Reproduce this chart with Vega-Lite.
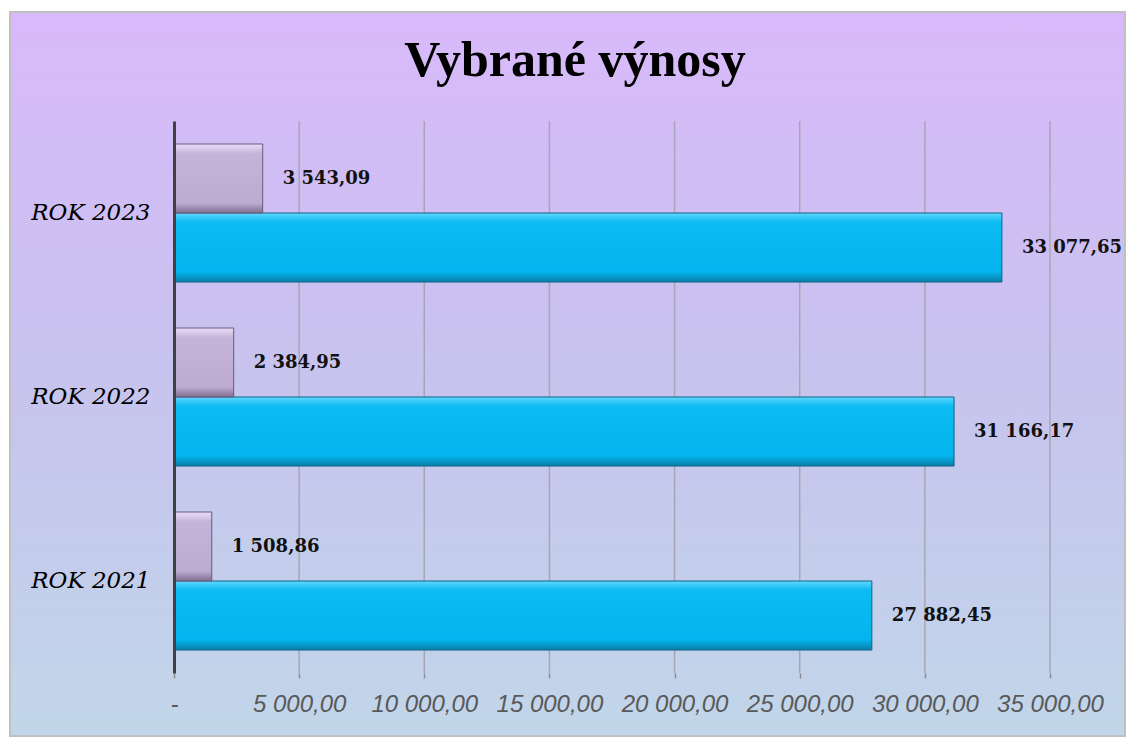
{
  "$schema": "https://vega.github.io/schema/vega-lite/v6.json",
  "width": 876,
  "height": 552,
  "autosize": {"type": "none"},
  "padding": {"left": 174, "top": 121, "right": 77, "bottom": 65},
  "background": "white",
  "config": {
    "view": {"stroke": null},
    "locale": {"number": {"decimal": ",", "thousands": "\u00a0", "grouping": [3], "currency": ["", ""]}}
  },
  "title": {
    "text": "Vybrané výnosy",
    "font": "Liberation Serif",
    "fontSize": 50,
    "fontWeight": "bold",
    "color": "#000000",
    "anchor": "middle",
    "frame": "group",
    "baseline": "alphabetic",
    "dx": -37,
    "offset": -115
  },
  "data": {
    "values": [
      {"rok": "ROK 2023", "serie": "Řada 2", "hodnota": 3543.09},
      {"rok": "ROK 2023", "serie": "Řada 1", "hodnota": 33077.65},
      {"rok": "ROK 2022", "serie": "Řada 2", "hodnota": 2384.95},
      {"rok": "ROK 2022", "serie": "Řada 1", "hodnota": 31166.17},
      {"rok": "ROK 2021", "serie": "Řada 2", "hodnota": 1508.86},
      {"rok": "ROK 2021", "serie": "Řada 1", "hodnota": 27882.45}
    ]
  },
  "layer": [
    {
      "data": {"values": [{}]},
      "mark": {
        "type": "rect",
        "fill": {
          "gradient": "linear",
          "x1": 0, "y1": 0, "x2": 0, "y2": 1,
          "stops": [
            {"offset": 0, "color": "#d9b9fb"},
            {"offset": 0.5, "color": "#c7c3ee"},
            {"offset": 1, "color": "#c1d6e9"}
          ]
        },
        "stroke": "#c0c0c0",
        "strokeWidth": 2
      },
      "encoding": {
        "x": {"datum": -6552, "type": "quantitative", "scale": {"domain": [0, 35000], "nice": false, "zero": false}, "axis": null},
        "x2": {"datum": 37996},
        "y": {"datum": -0.1141, "type": "quantitative", "scale": {"domain": [0, 1], "nice": false, "zero": false}, "axis": null},
        "y2": {"datum": 1.1975}
      }
    },
    {
      "data": {"values": [{"g": 5000}, {"g": 10000}, {"g": 15000}, {"g": 20000}, {"g": 25000}, {"g": 30000}, {"g": 35000}]},
      "mark": {"type": "rule", "color": "#a8a6b4", "strokeWidth": 1.5},
      "encoding": {
        "x": {"field": "g", "type": "quantitative", "scale": {"domain": [0, 35000], "nice": false}, "axis": null}
      }
    },
    {
      "transform": [{"filter": "datum.serie == 'Řada 1'"}],
      "mark": {
        "type": "bar",
        "fill": {
          "gradient": "linear",
          "x1": 0, "y1": 0, "x2": 0, "y2": 1,
          "stops": [
            {"offset": 0, "color": "#62d8ff"},
            {"offset": 0.13, "color": "#0cbcf2"},
            {"offset": 0.85, "color": "#03b4ee"},
            {"offset": 1, "color": "#0b7ea8"}
          ]
        },
        "stroke": "#0d6386",
        "strokeWidth": 1
      },
      "encoding": {
        "x": {
          "field": "hodnota", "type": "quantitative",
          "scale": {"domain": [0, 35000], "nice": false},
          "axis": {
            "orient": "bottom",
            "values": [0, 5000, 10000, 15000, 20000, 25000, 30000, 35000],
            "format": ",.2f",
            "labelExpr": "datum.value == 0 ? '-' : datum.label",
            "title": null,
            "grid": false,
            "domain": false,
            "ticks": true,
            "tickColor": "#8c8c96",
            "tickSize": 5,
            "tickWidth": 1.5,
            "labelFont": "Liberation Sans",
            "labelFontStyle": "italic",
            "labelFontSize": 24,
            "labelColor": "#595959",
            "labelPadding": 14,
            "labelFlush": false,
            "labelOverlap": false,
            "zindex": 2
          }
        },
        "y": {
          "field": "rok", "type": "nominal", "sort": "descending",
          "scale": {"paddingInner": 0.25, "paddingOuter": 0.125},
          "axis": {
            "orient": "left",
            "title": null,
            "ticks": false,
            "grid": false,
            "domain": true,
            "domainColor": "#404040",
            "domainWidth": 3,
            "labelFont": "DejaVu Serif",
            "labelFontStyle": "italic",
            "labelFontSize": 23,
            "labelColor": "#000000",
            "labelPadding": 24,
            "zindex": 2
          }
        },
        "yOffset": {"field": "serie", "type": "nominal", "scale": {"domain": ["Řada 2", "Řada 1"], "paddingInner": 0, "paddingOuter": 0}}
      }
    },
    {
      "transform": [{"filter": "datum.serie == 'Řada 2'"}],
      "mark": {
        "type": "bar",
        "fill": {
          "gradient": "linear",
          "x1": 0, "y1": 0, "x2": 0, "y2": 1,
          "stops": [
            {"offset": 0, "color": "#ecdcfa"},
            {"offset": 0.14, "color": "#c6b4d8"},
            {"offset": 0.86, "color": "#bcaacf"},
            {"offset": 1, "color": "#7e6d8e"}
          ]
        },
        "stroke": "#6a5a78",
        "strokeWidth": 1
      },
      "encoding": {
        "x": {"field": "hodnota", "type": "quantitative", "scale": {"domain": [0, 35000], "nice": false}, "axis": null},
        "y": {"field": "rok", "type": "nominal", "sort": "descending", "scale": {"paddingInner": 0.25, "paddingOuter": 0.125}, "axis": null},
        "yOffset": {"field": "serie", "type": "nominal", "scale": {"domain": ["Řada 2", "Řada 1"]}}
      }
    },
    {
      "mark": {"type": "text", "align": "left", "baseline": "middle", "dx": 20, "font": "DejaVu Serif", "fontWeight": "bold", "fontSize": 18, "color": "#111111"},
      "encoding": {
        "x": {"field": "hodnota", "type": "quantitative", "scale": {"domain": [0, 35000], "nice": false}, "axis": null},
        "y": {"field": "rok", "type": "nominal", "sort": "descending", "scale": {"paddingInner": 0.25, "paddingOuter": 0.125}, "axis": null},
        "yOffset": {"field": "serie", "type": "nominal", "scale": {"domain": ["Řada 2", "Řada 1"]}},
        "text": {"field": "hodnota", "type": "quantitative", "format": ",.2f"}
      }
    }
  ],
  "resolve": {"scale": {"y": "independent", "x": "independent"}}
}
